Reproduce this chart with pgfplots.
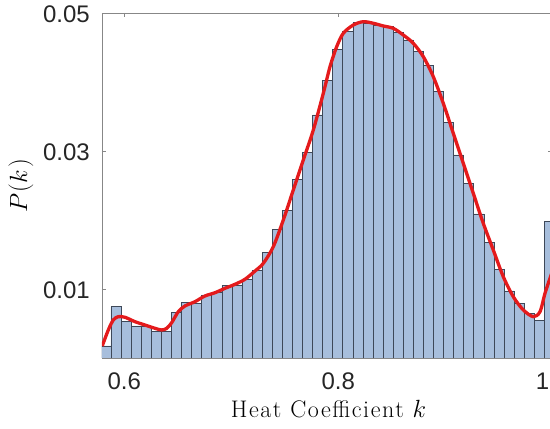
\documentclass[border=0pt]{standalone}
\usepackage{fontspec}
\usepackage{pgfplots}
\pgfplotsset{compat=1.18}
\newfontfamily\ticksans{Liberation Sans}
\newfontfamily\lblfont[LetterSpace=6.5]{Latin Modern Roman}
\definecolor{barfill}{RGB}{167,190,220}
\definecolor{baredge}{RGB}{62,72,88}
\definecolor{fitred}{RGB}{228,26,28}
\definecolor{axgray}{RGB}{135,135,135}
\definecolor{ticktext}{RGB}{38,38,38}
\begin{document}
\begin{tikzpicture}
\begin{axis}[
  width=450.3pt, height=345pt, scale only axis,
  xmin=0.57916, xmax=1.0, ymin=0, ymax=0.05,
  scaled x ticks=false, scaled y ticks=false,
  axis line style={draw=axgray, line width=0.8pt},
  xtick={0.6,0.8,1}, xticklabels={0.6,0.8,\llap{1\kern3pt}},
  ytick={0.01,0.03,0.05}, yticklabels={0.01,0.03,0.05},
  tick align=inside, major tick length=4.5pt,
  tick style={draw=axgray, line width=0.8pt},
  ticklabel style={font=\ticksans\fontsize{24}{28}\selectfont, text=ticktext},
  xticklabel style={anchor=base, yshift=-32pt},
  yticklabel style={anchor=east, xshift=-8.7pt, yshift=-1.5pt},
  xlabel={\fontsize{24}{28}\selectfont\lblfont Heat Coefficient $k$},
  ylabel={\fontsize{24}{28}\selectfont$P\mkern1mu(k\mkern2mu)$},
  xlabel style={at={(axis description cs:0.503,0)}, anchor=base, yshift=-60pt},
  ylabel style={at={(axis description cs:0,0.5)}, anchor=center, rotate=0, yshift=81pt},
  clip=true,
]
\addplot[ybar interval, fill=barfill, draw=baredge, line width=0.6pt] coordinates {
(0.57815,0.00174) (0.58757,0.00744) (0.59699,0.00527) (0.60640,0.00464)
(0.61582,0.00454) (0.62524,0.00390) (0.63466,0.00382) (0.64408,0.00657)
(0.65349,0.00807) (0.66291,0.00787) (0.67233,0.00913) (0.68175,0.00947)
(0.69117,0.01048) (0.70058,0.01053) (0.71000,0.01141) (0.71942,0.01270)
(0.72884,0.01526) (0.73826,0.01865) (0.74767,0.02135) (0.75709,0.02594)
(0.76651,0.02981) (0.77593,0.03522) (0.78535,0.04019) (0.79476,0.04474)
(0.80418,0.04729) (0.81360,0.04859) (0.82302,0.04851) (0.83244,0.04826)
(0.84185,0.04801) (0.85127,0.04714) (0.86069,0.04609) (0.87011,0.04440)
(0.87953,0.04246) (0.88894,0.03859) (0.89836,0.03416) (0.90778,0.02942)
(0.91720,0.02532) (0.92662,0.02087) (0.93603,0.01677) (0.94545,0.01285)
(0.95487,0.00971) (0.96429,0.00792) (0.97371,0.00647) (0.98312,0.00541)
(0.99254,0.01975) (1.00196,0.01975)
};
\addplot[fitred, line width=3.3pt, smooth, tension=0.5] coordinates {
(0.5794,0.00174) (0.58505,0.00406) (0.58972,0.00551) (0.59439,0.00599)
(0.60065,0.00590) (0.61,0.00526) (0.61935,0.00478) (0.62869,0.00430)
(0.63495,0.00406) (0.63963,0.00430) (0.6443,0.00512) (0.65047,0.00671)
(0.65673,0.00754) (0.66607,0.00816) (0.67542,0.00899) (0.68477,0.00946)
(0.69411,0.01010) (0.70346,0.01068) (0.7128,0.01141) (0.72215,0.01260)
(0.72991,0.01372) (0.73925,0.01613) (0.7486,0.02000) (0.75794,0.02435)
(0.76729,0.02870) (0.77664,0.03304) (0.78598,0.03836) (0.79224,0.04222)
(0.7985,0.04512) (0.80467,0.04706) (0.81402,0.04826) (0.82336,0.04874)
(0.83271,0.04851) (0.84206,0.04812) (0.8514,0.04778) (0.86075,0.04681)
(0.87009,0.04561) (0.87944,0.04367) (0.88879,0.04077) (0.89813,0.03691)
(0.90748,0.03257) (0.91682,0.02822) (0.92617,0.02387) (0.93551,0.01952)
(0.94486,0.01565) (0.95421,0.01178) (0.96355,0.00888) (0.9729,0.00696)
(0.98224,0.00599) (0.9885,0.00671) (0.99318,0.00938) (0.99785,0.01155)
(1.0,0.01250)
};
\end{axis}
\pgfresetboundingbox
\useasboundingbox ([xshift=-102pt,yshift=-71pt]current axis.south west) rectangle ([xshift=-2.3pt,yshift=13pt]current axis.north east);
\end{tikzpicture}
\end{document}
